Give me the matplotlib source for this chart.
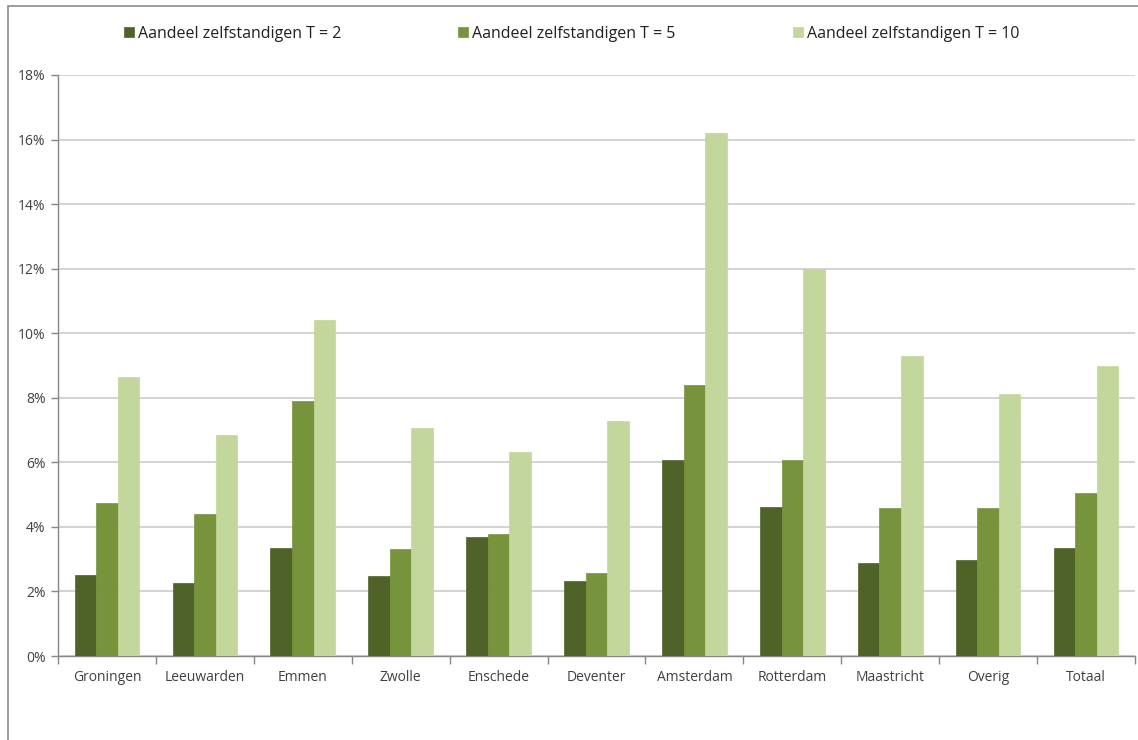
import matplotlib
matplotlib.use("Agg")
import matplotlib.pyplot as plt
import numpy as np
from matplotlib.patches import Rectangle

categories = ["Groningen", "Leeuwarden", "Emmen", "Zwolle", "Enschede", "Deventer",
              "Amsterdam", "Rotterdam", "Maastricht", "Overig", "Totaal"]
t2 = [2.52, 2.26, 3.34, 2.47, 3.68, 2.32, 6.06, 4.63, 2.87, 2.96, 3.35]
t5 = [4.73, 4.39, 7.89, 3.31, 3.77, 2.56, 8.39, 6.08, 4.58, 4.60, 5.04]
t10 = [8.65, 6.86, 10.40, 7.07, 6.32, 7.27, 16.20, 12.00, 9.30, 8.12, 8.98]
series_labels = ["Aandeel zelfstandigen T = 2", "Aandeel zelfstandigen T = 5",
                 "Aandeel zelfstandigen T = 10"]
colors = ["#4F6228", "#77933C", "#C3D69B"]
yticks = [0, 2, 4, 6, 8, 10, 12, 14, 16, 18]

plt.rcParams['font.family'] = ['Open Sans', 'DejaVu Sans']

fig = plt.figure(figsize=(11.38, 7.40), dpi=100)
W, H = 1138, 740
ax = fig.add_axes([58 / W, 1 - 656 / H, (1135 - 58) / W, (656 - 75) / H])

x = np.arange(len(categories))
bw = 0.22
handles = []
for i, (vals, c, lab) in enumerate(zip([t2, t5, t10], colors, series_labels)):
    b = ax.bar(x + (i - 1) * bw, vals, width=bw, color=c, label=lab, zorder=3,
               edgecolor=c, linewidth=0.5)
    handles.append(b)

ax.set_xlim(-0.5, len(categories) - 0.5)
ax.set_ylim(0, 18)
ax.set_yticks(yticks)
ax.set_yticklabels([f"{v}%" for v in yticks])
ax.set_xticks(x)
ax.set_xticklabels(categories)
ax.tick_params(axis='x', length=0, pad=10, labelsize=10, labelcolor="#404040")
ax.tick_params(axis='y', length=5, width=1, color="#868686", pad=4, labelsize=10,
               labelcolor="#404040")
# category boundary tick marks
ax.set_xticks(np.arange(-0.5, len(categories), 1.0), minor=True)
ax.tick_params(axis='x', which='minor', length=6, width=1, color="#868686")

ax.grid(axis='y', color="#D0D0D0", linewidth=1.3, zorder=0)
ax.set_axisbelow(True)
for s in ["top", "right"]:
    ax.spines[s].set_visible(False)
ax.spines["left"].set_color("#868686")
ax.spines["bottom"].set_color("#868686")
ax.spines["left"].set_linewidth(1)
ax.spines["bottom"].set_linewidth(1)

# legend: three separate entries, positioned as in the reference
leg_x = [124, 458, 793]
for h, lx in zip(handles, leg_x):
    fig.legend([h], [h.get_label()], loc="center left",
               bbox_to_anchor=(lx / W, 1 - 34 / H), frameon=False,
               handlelength=0.6, handleheight=0.6, handletextpad=0.3,
               fontsize=11.5, labelcolor="#202020", borderaxespad=0,
               borderpad=0)

# outer chart border
fig.add_artist(Rectangle((8 / W, -0.05), 1.2, 1 - 6 / H + 0.05,
                         transform=fig.transFigure, fill=False,
                         edgecolor="#8C8C8C", linewidth=1.2))

fig.savefig("out.png", dpi=100, facecolor="white")
